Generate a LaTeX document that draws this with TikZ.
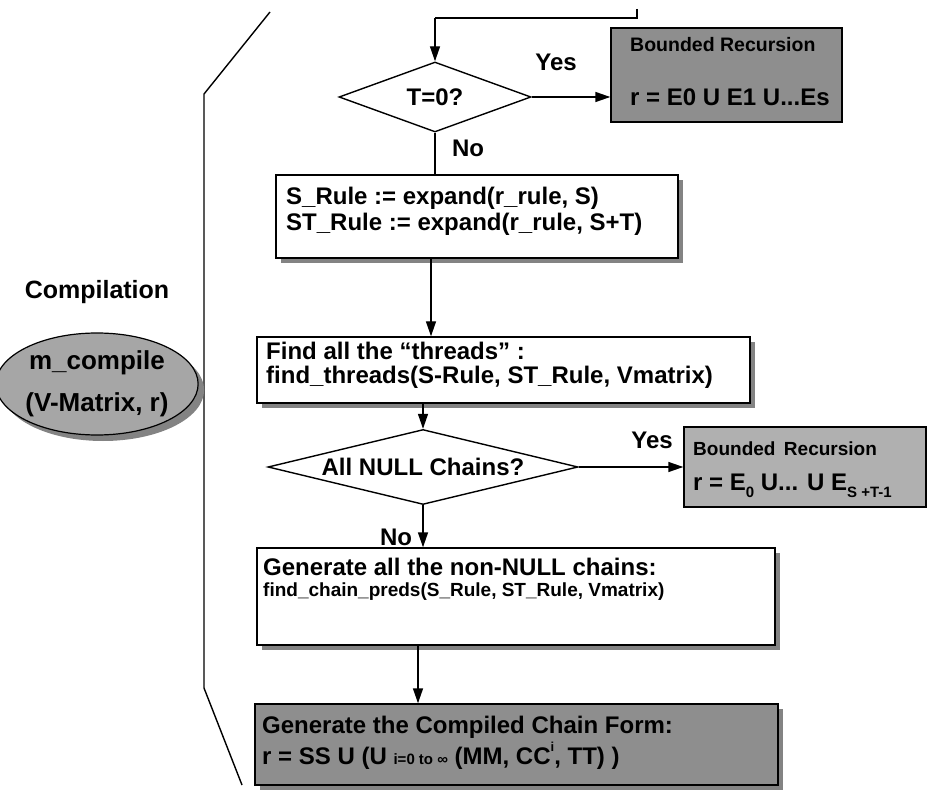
\documentclass[tikz,border=0pt]{standalone}
\usepackage{fontspec}
\setmainfont{Liberation Sans}
\usetikzlibrary{shapes.geometric,arrows.meta,shadows}

\definecolor{boxdark}{HTML}{8E8E8E}
\definecolor{boxmid}{HTML}{B0B0B0}
\definecolor{ovalfill}{HTML}{A6A6A6}
\definecolor{shade}{HTML}{838383}

\newcommand\lowsub[1]{\raisebox{-0.3em}{\fontsize{15}{15}\selectfont #1}}
\newcommand\highsup[1]{\raisebox{0.55em}{\fontsize{13}{13}\selectfont #1}}
\newcommand\smalltxt[1]{{\fontsize{15}{15}\selectfont #1}}

\begin{document}
\begin{tikzpicture}[x=1pt,y=-1pt,
  font=\bfseries\fontsize{24}{28}\selectfont,
  line/.style={line width=1.4pt},
  arr/.style={line width=1.4pt,-{Triangle[length=15pt,width=10pt]}},
  shadowed/.style={drop shadow={shadow xshift=5pt,shadow yshift=-5pt,fill=shade,opacity=1}},
  plainbox/.style={draw,line width=1.4pt,fill=white,inner sep=0pt,shadowed},
  darkbox/.style={draw,line width=1.4pt,fill=boxdark,inner sep=0pt},
  decision/.style={diamond,draw,line width=1.4pt,fill=white,inner sep=0pt},
  txt/.style={anchor=west,inner sep=0pt},
  tag/.style={inner sep=0pt}]

\useasboundingbox (0,0) rectangle (929,799);

% bracket grouping the compilation steps
\draw[line] (270,12) -- (204,94) -- (204,688) -- (242,785);

% compilation entry
\node[tag] (comp) at (97,292) {\fontsize{25}{28}\selectfont Compilation};
\node[ellipse,draw,line width=1.2pt,fill=ovalfill,minimum width=182pt,minimum height=102pt,
      inner sep=0pt,align=center,drop shadow={shadow xshift=6pt,shadow yshift=-6pt,fill=shade,opacity=1},
      font=\bfseries\fontsize{26}{42}\selectfont] (mc) at (97,384) {m\_compile\\(V-Matrix, r)};

% loop entry from above
\coordinate (fbtick) at (637,9);
\coordinate (fbend) at (637,18);
\coordinate (fbturn) at (435,18);

% first decision
\node[decision,aspect=2.74,minimum width=192pt,minimum height=70pt] (d1) at (435,97) {T=0?};
\draw[line] (fbtick) -- (fbend) -- (fbturn);
\draw[arr] (fbturn) -- (d1.north);

% bounded recursion (S)
\node[darkbox,minimum width=231pt,minimum height=94pt] (b1) at (726.5,75) {};
\node[txt] (b1a) at (630,45) {\fontsize{19.5}{22}\selectfont Bounded Recursion};
\node[txt] (b1b) at (630,97) {r = E0 U E1 U...Es};
\draw[arr] (d1.east) -- (d1.east -| b1.west);
\node[tag] (yes1) at (556,62) {Yes};
\node[tag] (no1) at (468,148) {No};

% rule expansion
\node[plainbox,minimum width=402pt,minimum height=83pt] (sbox) at (477,216.5) {};
\node[txt] (s1) at (286,198) {S\_Rule := expand(r\_rule, S)};
\node[txt] (s2) at (286,224) {ST\_Rule := expand(r\_rule, S+T)};
\draw[line] (d1.south) -- (d1.south |- sbox.north);

% thread detection
\node[plainbox,minimum width=493pt,minimum height=66pt] (fbox) at (503.5,370) {};
\node[txt] (f1) at (266,351) {Find all the “threads” :};
\node[txt] (f2) at (266,377) {find\_threads(S-Rule, ST\_Rule, Vmatrix)};
\draw[arr] (431,0 |- sbox.south) -- (431,0 |- fbox.north);

% second decision
\node[decision,aspect=4.1,minimum width=310pt,minimum height=75pt] (d2) at (423,467) {All NULL Chains?};
\draw[arr] (d2.north |- fbox.south) -- (d2.north);

% bounded recursion (S+T)
\node[darkbox,fill=boxmid,minimum width=242pt,minimum height=80pt] (b2) at (805,467) {};
\node[txt] (b2a) at (693,449) {\fontsize{19}{22}\selectfont Bounded\, Recursion};
\node[txt] (b2b) at (693,486) {r = E\lowsub{0} U... U E\lowsub{S +T-1}};
\draw[arr] (d2.east) -- (d2.east -| b2.west);
\node[tag] (yes2) at (652,440) {Yes};
\node[tag] (no2) at (396,537) {No};

% chain generation
\node[plainbox,minimum width=518pt,minimum height=97pt] (gbox) at (516,596.5) {};
\node[txt] (g1) at (263,567) {Generate all the non-NULL chains:};
\node[txt] (g2) at (263,592) {\fontsize{19}{22}\selectfont find\_chain\_preds(S\_Rule, ST\_Rule, Vmatrix)};
\draw[arr] (d2.south) -- (d2.south |- gbox.north);

% compiled chain form
\node[darkbox,shadowed,minimum width=523pt,minimum height=81pt] (cbox) at (516.5,744.5) {};
\node[txt] (c1) at (262,727) {Generate the Compiled Chain Form:};
\node[txt] (c2) at (262,756) {r = SS U (U \smalltxt{i=0 to ∞} (MM, CC\highsup{i}, TT) )};
\draw[arr] (418,0 |- gbox.south) -- (418,0 |- cbox.north);

\end{tikzpicture}
\end{document}
